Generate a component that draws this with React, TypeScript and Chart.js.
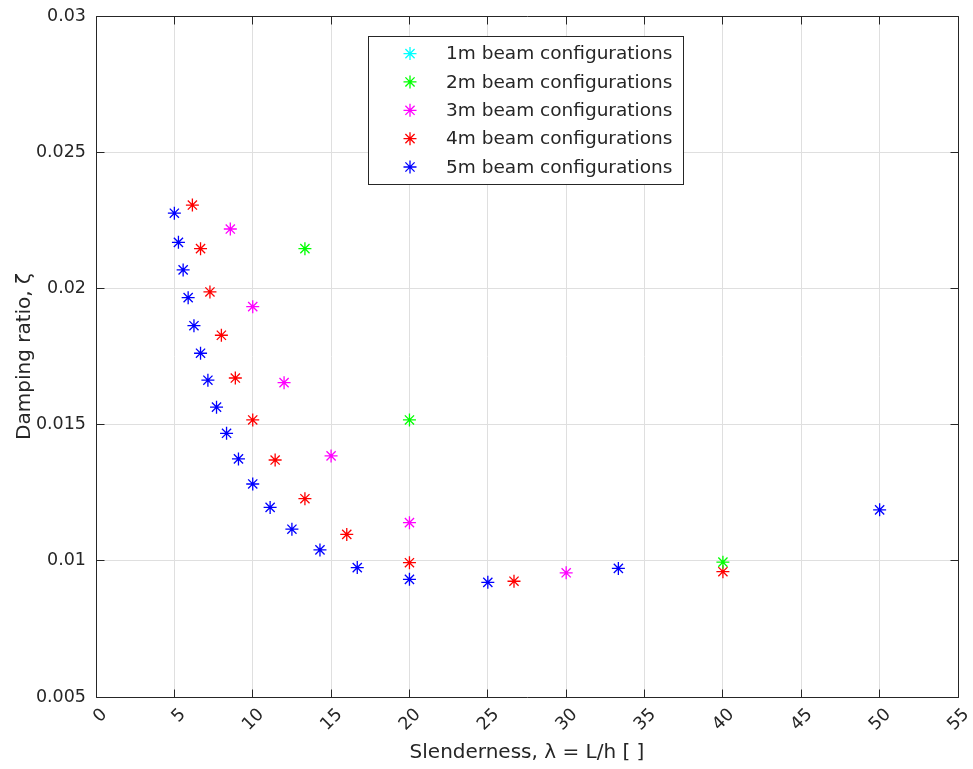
import React, { useEffect, useRef } from 'react';
import { Chart, registerables } from 'chart.js';

Chart.register(...registerables);

// ---- data ----
const seriesLabels = [
  '1m beam configurations',
  '2m beam configurations',
  '3m beam configurations',
  '4m beam configurations',
  '5m beam configurations',
];
const seriesColors = ['#00FFFF', '#00FF00', '#FF00FF', '#FF0000', '#0000FF'];

const slenderness1m: number[] = [];
const damping1m: number[] = [];

const slenderness2m = [13.33, 20, 40];
const damping2m = [0.02146, 0.01517, 0.00995];

const slenderness3m = [8.57, 10, 12, 15, 20, 30];
const damping3m = [0.02218, 0.01933, 0.01654, 0.01385, 0.0114, 0.00956];

const slenderness4m = [6.15, 6.67, 7.27, 8, 8.89, 10, 11.43, 13.33, 16, 20, 26.67, 40];
const damping4m = [0.02306, 0.02146, 0.01987, 0.01828, 0.01671, 0.01517, 0.0137, 0.01228, 0.01097, 0.00993, 0.00925, 0.0096];

const slenderness5m = [5, 5.26, 5.56, 5.88, 6.25, 6.67, 7.14, 7.69, 8.33, 9.09, 10, 11.11, 12.5, 14.29, 16.67, 20, 25, 33.33, 50];
const damping5m = [0.02276, 0.02169, 0.02068, 0.01966, 0.01863, 0.01762, 0.01663, 0.01564, 0.01468, 0.01374, 0.01282, 0.01196, 0.01116, 0.0104, 0.00975, 0.00932, 0.00921, 0.00972, 0.01187];

const xTicks = [0, 5, 10, 15, 20, 25, 30, 35, 40, 45, 50, 55];
const xTickLabels = ['0', '5', '10', '15', '20', '25', '30', '35', '40', '45', '50', '55'];
const yTicks = [0.005, 0.01, 0.015, 0.02, 0.025, 0.03];
const yTickLabels = ['0.005', '0.01', '0.015', '0.02', '0.025', '0.03'];

const xTitle = 'Slenderness, λ = L/h [ ]';
const yTitle = 'Damping ratio, ζ';

// ---- styles ----
const FONT = "'DejaVu Sans', 'Liberation Sans', sans-serif";
const TEXT = '#262626';
const GRID = '#dfdfdf';
const MARK_W = 1.3;

function drawStar(ctx: CanvasRenderingContext2D, x: number, y: number, r: number, color: string) {
  const d = r * Math.SQRT1_2;
  ctx.save();
  ctx.strokeStyle = color;
  ctx.lineWidth = MARK_W;
  ctx.beginPath();
  ctx.moveTo(x - r, y); ctx.lineTo(x + r, y);
  ctx.moveTo(x, y - r); ctx.lineTo(x, y + r);
  ctx.moveTo(x - d, y - d); ctx.lineTo(x + d, y + d);
  ctx.moveTo(x - d, y + d); ctx.lineTo(x + d, y - d);
  ctx.stroke();
  ctx.restore();
}

const align = (p: number) => Math.round(p - 0.5) + 0.5;

const framePlugin = {
  id: 'matlabFrame',
  beforeDraw(chart: any) {
    const xs = chart.scales.x;
    const ca = chart.chartArea;
    const items = xs.getLabelItems(ca);
    items.forEach((it: any, i: number) => {
      const px = xs.getPixelForValue(xTicks[i]);
      it.options.translation = [px + 8.5, ca.bottom + 15];
      it.options.textAlign = 'right';
      it.options.textBaseline = 'middle';
      it.textOffset = 0;
    });
  },
  afterDraw(chart: any) {
    const { ctx, chartArea: ca, scales } = chart;
    const L = align(ca.left), R = align(ca.right), T = align(ca.top), B = align(ca.bottom);
    ctx.save();
    ctx.strokeStyle = TEXT;
    ctx.lineWidth = 1;
    ctx.beginPath();
    ctx.rect(L, T, R - L, B - T);
    const tl = 8;
    xTicks.forEach((v) => {
      const px = align(scales.x.getPixelForValue(v));
      ctx.moveTo(px, B); ctx.lineTo(px, B - tl);
      ctx.moveTo(px, T); ctx.lineTo(px, T + tl);
    });
    yTicks.forEach((v) => {
      const py = align(scales.y.getPixelForValue(v));
      ctx.moveTo(L, py); ctx.lineTo(L + tl, py);
      ctx.moveTo(R, py); ctx.lineTo(R - tl, py);
    });
    ctx.stroke();

    // legend (MATLAB "north" location)
    const w = 315, h = 148;
    const lx = Math.round((ca.left + ca.right) / 2 - w / 2) - 2;
    const ly = Math.round(ca.top + 20);
    ctx.fillStyle = '#ffffff';
    ctx.fillRect(lx, ly, w, h);
    ctx.strokeStyle = TEXT;
    ctx.strokeRect(lx + 0.5, ly + 0.5, w, h);
    ctx.font = `18.5px ${FONT}`;
    ctx.textAlign = 'left';
    ctx.textBaseline = 'middle';
    chart.data.datasets.forEach((ds: any, i: number) => {
      const cy = ly + 17.6 + i * 28.35;
      drawStar(ctx, lx + 42, cy, 6.5, ds.borderColor);
      ctx.fillStyle = TEXT;
      ctx.fillText(ds.label, lx + 78, cy + 1);
    });
    ctx.restore();
  },
};

const xsList = [slenderness1m, slenderness2m, slenderness3m, slenderness4m, slenderness5m];
const ysList = [damping1m, damping2m, damping3m, damping4m, damping5m];

export default function App() {
  const ref = useRef<HTMLCanvasElement | null>(null);
  useEffect(() => {
    if (!ref.current) return;
    const datasets = seriesLabels.map((label, k) => ({
      label,
      data: xsList[k].map((x, i) => ({ x, y: ysList[k][i] })),
      showLine: false,
      pointStyle: 'star' as const,
      pointRadius: 6.5,
      pointBorderWidth: MARK_W,
      borderColor: seriesColors[k],
      backgroundColor: seriesColors[k],
      pointBorderColor: seriesColors[k],
      pointBackgroundColor: seriesColors[k],
    }));
    const chart = new Chart(ref.current, {
      type: 'scatter',
      data: { datasets },
      plugins: [framePlugin],
      options: {
        animation: false,
        responsive: false,
        devicePixelRatio: 1,
        layout: { padding: { top: 16, right: 15, left: 0, bottom: 0 } },
        plugins: { legend: { display: false }, tooltip: { enabled: false } },
        scales: {
          x: {
            type: 'linear',
            min: 0,
            max: 55,
            afterBuildTicks: (s: any) => { s.ticks = xTicks.map((v) => ({ value: v })); },
            afterFit: (s: any) => { s.height = 72; s.paddingLeft = 0; s.paddingRight = 0; },
            ticks: {
              autoSkip: false,
              minRotation: 45,
              maxRotation: 45,
              color: TEXT,
              font: { family: FONT, size: 17.5 },
              callback: (_v: any, i: number) => xTickLabels[i],
            },
            grid: { color: GRID, drawTicks: false, lineWidth: 1 },
            border: { display: false },
            title: {
              display: true,
              text: xTitle,
              color: TEXT,
              font: { family: FONT, size: 20 },
              padding: { top: 0, bottom: 4 },
            },
          },
          y: {
            type: 'linear',
            min: 0.005,
            max: 0.03,
            afterBuildTicks: (s: any) => { s.ticks = yTicks.map((v) => ({ value: v })); },
            afterFit: (s: any) => { s.width = 96; s.paddingTop = 0; s.paddingBottom = 0; },
            ticks: {
              color: TEXT,
              padding: 10,
              font: { family: FONT, size: 17.5 },
              callback: (_v: any, i: number) => yTickLabels[i],
            },
            grid: { color: GRID, drawTicks: false, lineWidth: 1 },
            border: { display: false },
            title: {
              display: true,
              text: yTitle,
              color: TEXT,
              font: { family: FONT, size: 20 },
              padding: { top: 13, bottom: 0 },
            },
          },
        },
      } as any,
    });
    return () => chart.destroy();
  }, []);
  return (
    <div style={{ position: 'absolute', left: 0, top: 0, width: 973, height: 769, background: '#fff' }}>
      <canvas ref={ref} width={973} height={769} />
    </div>
  );
}
